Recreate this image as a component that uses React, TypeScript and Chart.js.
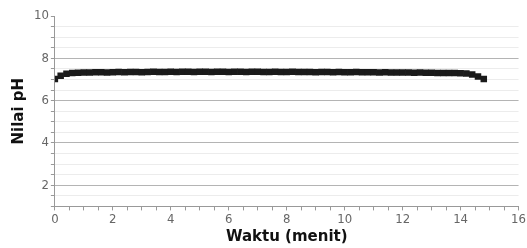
import React, { useEffect, useRef } from "react";
import { Chart, registerables } from "chart.js";

Chart.register(...registerables);

const timeMin: number[] = [
  0, 0.2, 0.4, 0.6, 0.8, 1.0, 1.2, 1.4, 1.6, 1.8,
  2.0, 2.2, 2.4, 2.6, 2.8, 3.0, 3.2, 3.4, 3.6, 3.8,
  4.0, 4.2, 4.4, 4.6, 4.8, 5.0, 5.2, 5.4, 5.6, 5.8,
  6.0, 6.2, 6.4, 6.6, 6.8, 7.0, 7.2, 7.4, 7.6, 7.8,
  8.0, 8.2, 8.4, 8.6, 8.8, 9.0, 9.2, 9.4, 9.6, 9.8,
  10.0, 10.2, 10.4, 10.6, 10.8, 11.0, 11.2, 11.4, 11.6, 11.8,
  12.0, 12.2, 12.4, 12.6, 12.8, 13.0, 13.2, 13.4, 13.6, 13.8,
  14.0, 14.2, 14.4, 14.6, 14.8,
];

const phValues: number[] = [
  7.02, 7.18, 7.27, 7.30, 7.32, 7.33, 7.33, 7.34, 7.34, 7.33,
  7.34, 7.35, 7.34, 7.35, 7.35, 7.34, 7.35, 7.36, 7.35, 7.35,
  7.36, 7.35, 7.36, 7.36, 7.35, 7.36, 7.36, 7.35, 7.36, 7.36,
  7.35, 7.36, 7.36, 7.35, 7.36, 7.36, 7.35, 7.35, 7.36, 7.35,
  7.35, 7.36, 7.35, 7.35, 7.35, 7.34, 7.35, 7.35, 7.34, 7.35,
  7.34, 7.34, 7.35, 7.34, 7.34, 7.34, 7.33, 7.34, 7.33, 7.33,
  7.33, 7.33, 7.32, 7.33, 7.32, 7.32, 7.31, 7.31, 7.31, 7.30,
  7.29, 7.28, 7.24, 7.14, 7.02,
];

const xTickLabels: number[] = [0, 2, 4, 6, 8, 10, 12, 14, 16];
const yTickLabels: number[] = [2, 4, 6, 8, 10];
const xTitle = "Waktu (menit)";
const yTitle = "Nilai pH";

export default function App() {
  const ref = useRef<HTMLCanvasElement | null>(null);
  useEffect(() => {
    if (!ref.current) return;
    const tickFont = { family: "'Liberation Sans Narrow', 'DejaVu Sans Condensed', sans-serif", size: 13 };
    const chart = new Chart(ref.current, {
      type: "scatter",
      data: {
        datasets: [
          {
            data: timeMin.map((t, i) => ({ x: t, y: phValues[i] })),
            pointStyle: "rect",
            pointRadius: 4.6,
            backgroundColor: "#1a1a1a",
            borderColor: "#1a1a1a",
            borderWidth: 0,
            showLine: false,
          },
        ],
      },
      options: {
        animation: false,
        responsive: false,
        maintainAspectRatio: false,
        layout: { padding: { left: 10, right: 6, top: 16, bottom: 2 } },
        plugins: { legend: { display: false }, tooltip: { enabled: false } },
        scales: {
          x: {
            type: "linear",
            min: 0,
            max: 16,
            ticks: {
              stepSize: 0.5,
              autoSkip: false,
              maxRotation: 0,
              color: "#666",
              font: tickFont,
              padding: 1,
              callback: (v: any) => (xTickLabels.includes(Number(v)) ? String(v) : ""),
            },
            grid: {
              drawOnChartArea: false,
              drawTicks: true,
              tickLength: 4,
              tickColor: "#999",
            },
            border: { color: "#999", width: 1 },
            title: {
              display: true,
              text: xTitle,
              color: "#111",
              font: { family: "'DejaVu Sans', sans-serif", size: 15, weight: "bold" },
              padding: { top: 0, bottom: 0 },
            },
          },
          y: {
            type: "linear",
            min: 1,
            max: 10,
            ticks: {
              stepSize: 0.5,
              autoSkip: false,
              color: "#666",
              font: tickFont,
              padding: 2,
              callback: (v: any) => (yTickLabels.includes(Number(v)) ? String(v) : ""),
            },
            grid: {
              drawTicks: true,
              tickLength: 4,
              tickColor: "#999",
              color: (ctx: any) => {
                const v = ctx.tick ? ctx.tick.value : 0;
                if (v === 10 || v === 1) return "rgba(0,0,0,0)";
                return v % 2 === 0 ? "#b4b4b4" : "#ececec";
              },
              lineWidth: 1,
            },
            border: { color: "#999", width: 1 },
            title: {
              display: true,
              text: yTitle,
              color: "#111",
              font: { family: "'DejaVu Sans', sans-serif", size: 15, weight: "bold" },
              padding: { top: 0, bottom: 4 },
            },
          },
        },
      },
    });
    return () => chart.destroy();
  }, []);
  return (
    <div style={{ position: "fixed", left: 0, top: 0, width: 527, height: 248, background: "#fff" }}>
      <canvas ref={ref} width={527} height={248} style={{ width: 527, height: 248 }} />
    </div>
  );
}
